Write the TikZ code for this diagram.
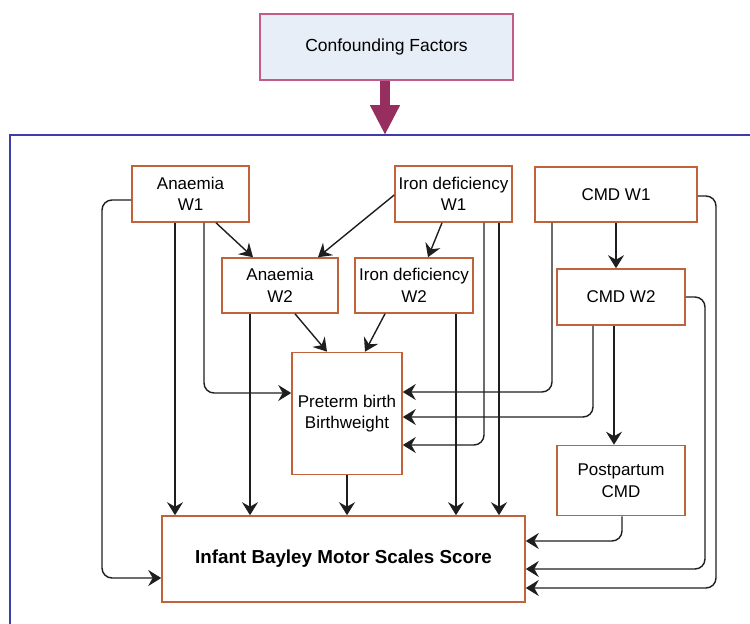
\documentclass[tikz,border=0pt]{standalone}
\usepackage{fontspec}
\setmainfont{Liberation Sans}
\usetikzlibrary{arrows.meta}
\definecolor{nodeborder}{RGB}{192,98,58}
\definecolor{confborder}{RGB}{196,90,140}
\definecolor{conffill}{RGB}{232,238,248}
\definecolor{bigarrowcol}{RGB}{150,46,96}
\definecolor{framecol}{RGB}{60,60,170}
\definecolor{linecol}{RGB}{30,30,30}
\tikzset{
  box/.style={draw=nodeborder, line width=1.6pt, fill=white, inner sep=0pt, align=center,
    font=\fontsize{17}{21.5}\selectfont},
  conn/.style={draw=linecol, line width=1.4pt, rounded corners=10pt,
    -{Stealth[length=13pt,width=16pt,inset=4.5pt]}},
  bigarrow/.style={draw=bigarrowcol, line width=10pt,
    -{Triangle[length=30pt,width=28pt]}},
  frame/.style={draw=framecol, line width=1.5pt}
}
\begin{document}
\begin{tikzpicture}[x=1pt,y=-1pt]
\useasboundingbox (0,0) rectangle (750,624);
% frame
\draw[frame] (10,640) -- (10,135) -- (770,135);
\coordinate (ft) at (385,135);
% confounding factors
\node[draw=confborder, fill=conffill, line width=1.4pt, minimum width=253pt, minimum height=66pt,
  inner sep=0pt, font=\fontsize{17.5}{21}\selectfont] (conf) at (386.5,47) {Confounding Factors};
\draw[bigarrow] (conf.south -| ft) -- (ft);
% nodes
\node[box, minimum width=117pt, minimum height=56pt] (a1) at (190.5,194) {Anaemia\\W1};
\node[box, minimum width=117pt, minimum height=56pt] (i1) at (453.5,194) {Iron deficiency\\W1};
\node[box, minimum width=162pt, minimum height=55pt] (c1) at (616,194.5) {CMD W1};
\node[box, minimum width=116pt, minimum height=55pt] (a2) at (280,285.5) {Anaemia\\W2};
\node[box, minimum width=118pt, minimum height=55pt] (i2) at (414,285.5) {Iron deficiency\\W2};
\node[box, minimum width=128pt, minimum height=56pt] (c2) at (621,297) {CMD W2};
\node[box, minimum width=110pt, minimum height=122pt] (pt) at (347,413.5) {Preterm birth\\Birthweight};
\node[box, minimum width=128pt, minimum height=70pt] (pp) at (621,480.5) {Postpartum\\CMD};
\node[box, minimum width=363pt, minimum height=86pt, font=\bfseries\fontsize{18.8}{22}\selectfont] (inf) at (343.5,559) {Infant Bayley Motor Scales Score};
% connectors
\draw[conn] (a1.west |- 0,200) -- (102,200) -- (102,578) -- (inf.west |- 0,578);
\draw[conn] (a1.south -| 175,0) -- (inf.north -| 175,0);
\draw[conn] (a1.south -| 204,0) -- (204,393) -- (pt.west |- 0,393);
\draw[conn] (a1.south -| 216,0) -- (a2.north -| 253,0);
\draw[conn] (i1.west |- 0,195) -- (a2.north -| 318,0);
\draw[conn] (i1.south -| 442,0) -- (i2.north -| 428,0);
\draw[conn] (a2.south -| 250,0) -- (inf.north -| 250,0);
\draw[conn] (a2.south -| 295,0) -- (pt.north -| 327,0);
\draw[conn] (i2.south -| 385,0) -- (pt.north -| 365,0);
\draw[conn] (i2.south -| 456,0) -- (inf.north -| 456,0);
\draw[conn] (i1.south -| 484,0) -- (484,445) -- (pt.east |- 0,445);
\draw[conn] (i1.south -| 499,0) -- (inf.north -| 499,0);
\draw[conn] (c1.south -| 552,0) -- (552,392) -- (pt.east |- 0,392);
\draw[conn] (c1.south) -- (c2.north -| c1.south);
\draw[conn] (c1.east |- 0,196) -- (716,196) -- (716,588) -- (inf.east |- 0,588);
\draw[conn] (c2.south -| 593,0) -- (593,417) -- (pt.east |- 0,417);
\draw[conn] (c2.south -| 614,0) -- (pp.north -| 614,0);
\draw[conn] (c2.east |- 0,297) -- (705,297) -- (705,569) -- (inf.east |- 0,569);
\draw[conn] (pp.south -| 622,0) -- (622,541) -- (inf.east |- 0,541);
\draw[conn] (pt.south) -- (inf.north -| pt.south);
\end{tikzpicture}
\end{document}
